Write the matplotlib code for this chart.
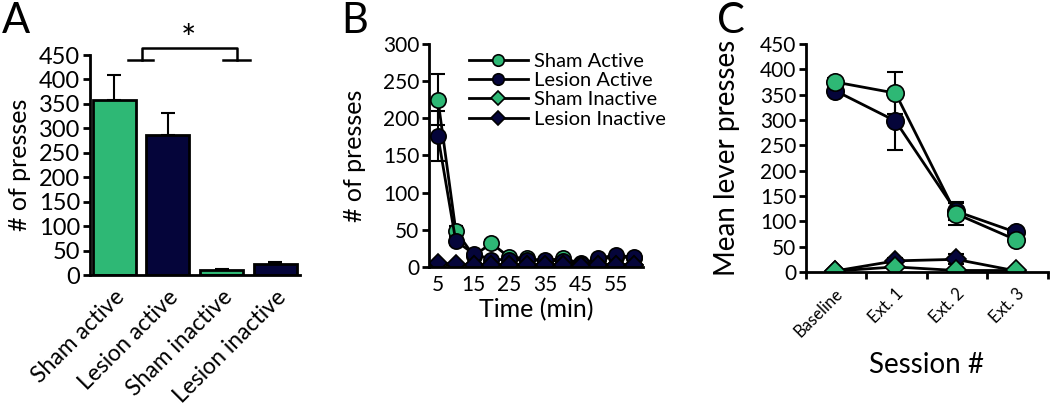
import matplotlib.pyplot as plt
import numpy as np

plt.rcParams['font.family'] = ['Lato', 'DejaVu Sans']

GREEN = '#2eb875'
NAVY = '#05053a'

# panel A
bar_labels = ['Sham active', 'Lesion active', 'Sham inactive', 'Lesion inactive']
bar_vals = [358, 287, 10, 22]
bar_err = [52, 45, 3, 5]
bar_cols = [GREEN, NAVY, GREEN, NAVY]

# panel B
minutes = [5, 10, 15, 20, 25, 30, 35, 40, 45, 50, 55, 60]
sham_act_b = [225, 49, 15, 32, 13, 12, 8, 12, 5, 10, 14, 12]
sham_act_b_err = [34, 6, 3, 4, 3, 3, 2, 3, 2, 3, 3, 3]
les_act_b = [176, 35, 18, 10, 10, 9, 9, 8, 4, 12, 16, 13]
les_act_b_err = [34, 6, 3, 3, 3, 3, 2, 2, 2, 3, 3, 3]
sham_inact_b = [3, 3, 3, 3, 3, 3, 3, 3, 2, 3, 3, 3]
les_inact_b = [5, 4, 3, 3, 3, 3, 3, 3, 2, 3, 3, 3]
min_ticks = [5, 15, 25, 35, 45, 55]

# panel C
sessions = ['Baseline', 'Ext. 1', 'Ext. 2', 'Ext. 3']
sham_act_c = [375, 353, 115, 63]
sham_act_c_err = [8, 42, 22, 8]
les_act_c = [358, 298, 120, 78]
les_act_c_err = [8, 58, 18, 8]
sham_inact_c = [2, 10, 3, 3]
les_inact_c = [2, 22, 25, 2]
les_inact_c_err = [1, 5, 10, 1]

fig = plt.figure(figsize=(10.5, 4.17), dpi=100)
axA = fig.add_axes([0.0857, 0.3405, 0.2, 0.5275])
axB = fig.add_axes([0.4086, 0.3597, 0.2038, 0.5348])
axC = fig.add_axes([0.7676, 0.3477, 0.2304, 0.5468])

for ax in (axA, axB, axC):
    for s in ('top', 'right'):
        ax.spines[s].set_visible(False)
    for s in ('left', 'bottom'):
        ax.spines[s].set_linewidth(2)
    ax.tick_params(axis='y', width=2, length=5, labelsize=15, pad=2)

# A
xa = np.arange(len(bar_vals))
axA.bar(xa, bar_vals, width=0.8, color=bar_cols, edgecolor='black', linewidth=2, zorder=2)
axA.errorbar(xa, bar_vals, yerr=[np.zeros(4), bar_err], fmt='none', ecolor='black',
             elinewidth=1.5, capsize=5, capthick=1.5, zorder=1)
axA.set_xlim(-0.45, 3.46)
axA.set_ylim(0, 450)
axA.set_yticks(range(0, 451, 50))
axA.tick_params(axis='y', labelsize=17)
axA.set_xticks(xa)
axA.set_xticklabels(bar_labels, rotation=45, ha='right', rotation_mode='anchor', fontsize=16.5)
axA.tick_params(axis='x', length=0, pad=8)
axA.set_ylabel('# of presses', fontsize=18, labelpad=6)
br = dict(color='black', lw=1.8, clip_on=False)
axA.plot([0.52, 0.52, 2.29, 2.29], [440, 464, 464, 440], **br)
axA.plot([0.26, 0.73], [440, 440], **br)
axA.plot([2.03, 2.53], [440, 440], **br)
axA.text(1.38, 480, '*', fontsize=26, ha='center', va='center')
fig.text(0.002, 0.995, 'A', fontsize=30, va='top')

# B
ln = dict(color='black', lw=2, markeredgecolor='black', markeredgewidth=1.2)
axB.errorbar(minutes, sham_act_b, yerr=sham_act_b_err, fmt='none', ecolor='black',
             elinewidth=1.5, capsize=5, capthick=1.5)
axB.errorbar(minutes, les_act_b, yerr=les_act_b_err, fmt='none', ecolor='black',
             elinewidth=1.5, capsize=5, capthick=1.5)
axB.plot(minutes, sham_act_b, marker='o', ms=11, markerfacecolor=GREEN, label='Sham Active', **ln)
axB.plot(minutes, les_act_b, marker='o', ms=11, markerfacecolor=NAVY, label='Lesion Active', **ln)
axB.plot(minutes, sham_inact_b, marker='D', ms=9, markerfacecolor=GREEN, label='Sham Inactive', **ln)
axB.plot(minutes, les_inact_b, marker='D', ms=9, markerfacecolor=NAVY, label='Lesion Inactive', **ln)
axB.set_xlim(2.5, 62.5)
axB.set_ylim(0, 300)
axB.set_yticks(range(0, 301, 50))
axB.set_xticks(min_ticks)
axB.tick_params(axis='x', length=0, labelsize=15, pad=6)
axB.set_xlabel('Time (min)', fontsize=18, labelpad=2)
axB.set_ylabel('# of presses', fontsize=18, labelpad=12)
axB.legend(loc='upper left', bbox_to_anchor=(0.15, 0.995), frameon=False, fontsize=14.5,
           markerscale=0.75, handlelength=2.9, handletextpad=0.3, labelspacing=0.1,
           borderaxespad=0)
fig.text(0.325, 0.995, 'B', fontsize=30, va='top')

# C
xc = np.arange(len(sessions))
axC.errorbar(xc, sham_act_c, yerr=sham_act_c_err, fmt='none', ecolor='black',
             elinewidth=1.5, capsize=6, capthick=1.5)
axC.errorbar(xc, les_act_c, yerr=les_act_c_err, fmt='none', ecolor='black',
             elinewidth=1.5, capsize=6, capthick=1.5)
axC.errorbar(xc, les_inact_c, yerr=les_inact_c_err, fmt='none', ecolor='black',
             elinewidth=1.5, capsize=6, capthick=1.5)
axC.plot(xc, les_act_c, marker='o', ms=12.5, markerfacecolor=NAVY, **ln)
axC.plot(xc, sham_act_c, marker='o', ms=12.5, markerfacecolor=GREEN, **ln)
axC.plot(xc, les_inact_c, marker='D', ms=10, markerfacecolor=NAVY, **ln)
axC.plot(xc, sham_inact_c, marker='D', ms=10, markerfacecolor=GREEN, **ln)
axC.set_xlim(-0.48, 3.5)
axC.set_ylim(0, 450)
axC.set_yticks(range(0, 451, 50))
axC.set_xticks(xc)
axC.set_xticklabels(sessions, rotation=45, ha='right', rotation_mode='anchor', fontsize=12)
axC.set_xticks(np.arange(-0.48, 3.6, 1.0), minor=True)
axC.tick_params(axis='x', which='major', length=0, pad=10)
axC.tick_params(axis='x', which='minor', length=5, width=2)
axC.set_xlabel('Session #', fontsize=20, labelpad=8)
axC.set_ylabel('Mean lever presses', fontsize=20, labelpad=14)
fig.text(0.683, 0.995, 'C', fontsize=30, va='top')

fig.savefig('out.png', dpi=100)
